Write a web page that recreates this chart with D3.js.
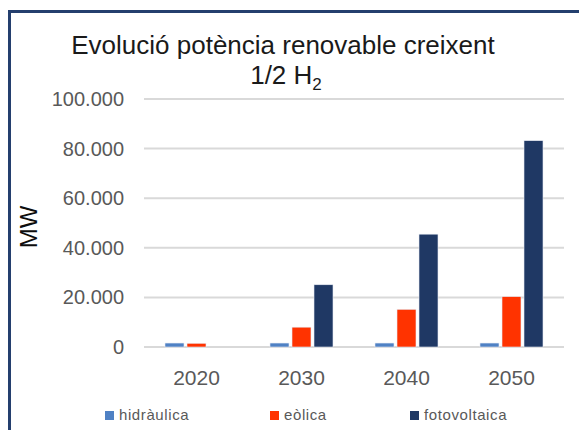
<!DOCTYPE html>
<html>
<head>
<meta charset="utf-8">
<script src="https://cdn.jsdelivr.net/npm/d3@7"></script>
<style>
  html, body { margin: 0; padding: 0; background: #ffffff; }
  svg { display: block; font-family: "Liberation Sans", Arial, sans-serif; }
</style>
</head>
<body>
<svg id="chart" width="579" height="430"></svg>
<script>
// Installed renewable capacity (MW) by year and technology
const years = ["2020", "2030", "2040", "2050"];
const seriesNames = ["hidràulica", "eòlica", "fotovoltaica"];
const hidraulica = [1600, 1600, 1600, 1600];
const eolica = [1500, 8000, 15200, 20300];
const fotovoltaica = [0, 25100, 45500, 83200];
const yTicks = [0, 20000, 40000, 60000, 80000, 100000];
const colors = ["#4f81c4", "#ff3300", "#1f3864"];

const values = [hidraulica, eolica, fotovoltaica];

const svg = d3.select("#chart");
const W = 579, H = 430;

// Outer frame (runs off the right and bottom edges)
svg.append("rect")
  .attr("x", 9.5).attr("y", 11.5)
  .attr("width", W + 20).attr("height", H + 20)
  .attr("fill", "#ffffff")
  .attr("stroke", "#243f6e")
  .attr("stroke-width", 3);

// Title
const title = svg.append("text")
  .attr("text-anchor", "middle")
  .attr("fill", "#1a1a1a")
  .style("font-size", "26px");
title.append("tspan").attr("x", 283).attr("y", 54)
  .text("Evolució potència renovable creixent");
const line2 = svg.append("text")
  .attr("x", 286).attr("y", 84)
  .attr("text-anchor", "middle")
  .attr("fill", "#1a1a1a")
  .style("font-size", "26px");
line2.append("tspan").text("1/2 H");
line2.append("tspan").attr("dy", 6).style("font-size", "17px").text("2");

// Scales
const x0 = d3.scaleBand().domain(years).range([144, 564]);
const x1 = d3.scaleBand().domain(seriesNames).range([21, 84]).paddingInner(3 / 22);
const y = d3.scaleLinear().domain([0, 100000]).range([347, 99]);

const locale = d3.formatLocale({ decimal: ",", thousands: ".", grouping: [3], currency: ["", " €"] });
const fmt = locale.format(",.0f");

// Gridlines
svg.append("g")
  .selectAll("line")
  .data(yTicks)
  .join("line")
  .attr("x1", 144).attr("x2", 564)
  .attr("y1", d => y(d)).attr("y2", d => y(d))
  .attr("stroke", "#d9d9d9")
  .attr("stroke-width", 2);

// Y axis labels
const yAxis = svg.append("g")
  .attr("transform", "translate(124,0)")
  .call(d3.axisLeft(y).tickValues(yTicks).tickFormat(fmt).tickSize(0).tickPadding(0));
yAxis.select(".domain").remove();
yAxis.selectAll("text")
  .attr("fill", "#595959")
  .style("font-size", "20px")
  .style("font-family", "'Liberation Sans', Arial, sans-serif");

// X axis labels
const xAxis = svg.append("g")
  .attr("transform", "translate(0,370)")
  .call(d3.axisBottom(x0).tickSize(0).tickPadding(0));
xAxis.select(".domain").remove();
xAxis.selectAll("text")
  .attr("fill", "#595959")
  .attr("dy", "0.71em")
  .style("font-size", "21px")
  .style("font-family", "'Liberation Sans', Arial, sans-serif");

// Y axis title
svg.append("text")
  .attr("transform", "translate(37,227) rotate(-90)")
  .attr("text-anchor", "middle")
  .attr("fill", "#0d0d0d")
  .style("font-size", "24px")
  .text("MW");

// Bars
const groups = svg.append("g")
  .selectAll("g")
  .data(years)
  .join("g")
  .attr("transform", d => `translate(${x0(d)},0)`);

groups.selectAll("rect")
  .data((d, i) => seriesNames.map((s, k) => ({ s, k, v: values[k][i] })))
  .join("rect")
  .attr("x", d => x1(d.s))
  .attr("width", x1.bandwidth())
  .attr("y", d => y(d.v))
  .attr("height", d => y(0) - y(d.v))
  .attr("fill", d => colors[d.k])
  .attr("stroke", d => d.v > 0 ? "#e8ecf4" : "none")
  .attr("stroke-width", 0.6);

// Legend
const legendX = [105, 270, 410];
const legend = svg.append("g")
  .selectAll("g")
  .data(seriesNames)
  .join("g")
  .attr("transform", (d, i) => `translate(${legendX[i]},411)`);
legend.append("rect")
  .attr("width", 9).attr("height", 9)
  .attr("fill", (d, i) => colors[i]);
legend.append("text")
  .attr("x", 14).attr("y", 9)
  .attr("fill", "#595959")
  .style("font-size", "15px")
  .style("letter-spacing", "0.6px")
  .text(d => d);
</script>
</body>
</html>
